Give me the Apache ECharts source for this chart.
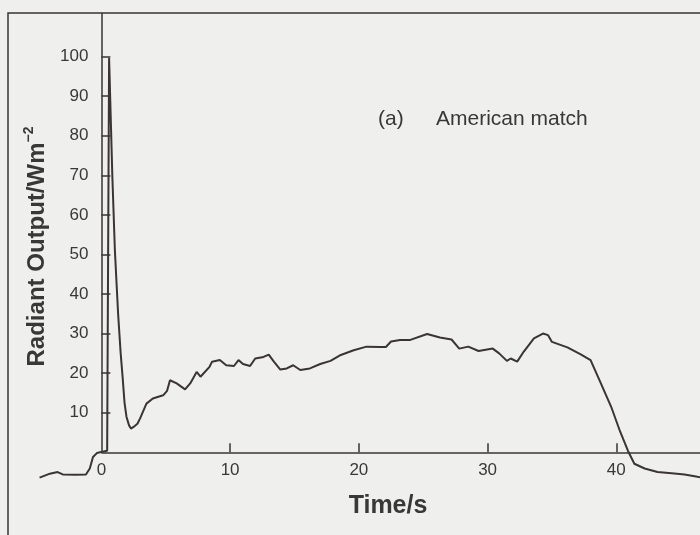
<!DOCTYPE html>
<html>
<head>
<meta charset="UTF-8">
<title>Radiant output - American match</title>
<script src="https://cdn.jsdelivr.net/npm/echarts@6/dist/echarts.min.js"></script>
<style>
	body{margin:0;background:#efefed;}
	#main{width:700px;height:535px;}
</style>
</head>
<body>
<div id="main"></div>
<script type="text/javascript">
	// values (time in s, output in W m-2)
	var time = [-4.8, -4.4, -4.0, -3.4, -3.0, -2.0, -1.2, -0.9, -0.65, -0.35, -0.1, 0.45, 0.6, 0.68, 0.85, 1.05, 1.3, 1.5, 1.65, 1.8,
		1.95, 2.15, 2.3, 2.5, 2.65, 2.8, 3.0, 3.5, 4.0, 4.8, 5.1, 5.33, 5.85, 6.5, 6.9, 7.4, 7.7, 8.4, 8.6, 9.2,
		9.7, 10.3, 10.65, 11.0, 11.55, 11.95, 12.6, 13.0, 13.4, 13.9, 14.4, 14.9, 15.45, 16.2, 17.0, 17.8, 18.6, 19.6, 20.6, 21.7,
		22.1, 22.5, 23.2, 24.0, 25.3, 26.3, 27.2, 27.8, 28.5, 29.3, 30.4, 30.9, 31.5, 31.8, 32.3, 32.8, 33.6, 34.3, 34.7, 35.0,
		36.2, 37.2, 38.0, 38.8, 39.6, 40.3, 40.9, 41.4, 42.2, 43.2, 44.3, 45.3, 46.3, 46.5];
	var output = [-6.4, -5.9, -5.4, -5.0, -5.6, -5.7, -5.6, -4.1, -1.2, -0.2, 0, 0.4, 99.6, 99.4, 70, 51, 35, 25, 19, 12.5,
		9, 6.8, 6.0, 6.4, 6.8, 7.2, 8.5, 12.3, 13.6, 14.4, 15.5, 18.2, 17.4, 15.9, 17.4, 20.3, 19.1, 21.6, 22.9, 23.3,
		22.0, 21.8, 23.3, 22.3, 21.8, 23.7, 24.1, 24.7, 22.9, 20.9, 21.2, 22.0, 20.8, 21.2, 22.3, 23.1, 24.6, 25.8, 26.7, 26.6,
		26.6, 28.0, 28.4, 28.4, 29.9, 29.0, 28.5, 26.2, 26.7, 25.6, 26.2, 25.0, 23.1, 23.7, 22.9, 25.4, 28.8, 30.0, 29.6, 27.9,
		26.5, 24.8, 23.3, 17.4, 11.5, 5.2, 0.4, -2.9, -4.1, -5.0, -5.3, -5.6, -6.2, -6.3];
	var xLabels = [0, 10, 20, 30, 40];
	var xTicks = [10, 20, 30, 40];
	var yTicks = [10, 20, 30, 40, 50, 60, 70, 80, 90, 100];

	var ink = '#3a3434';
	var font = "'Liberation Sans', Arial, Helvetica, sans-serif";

	var points = [];
	for (var i = 0; i < time.length; i++) {
		points.push([time[i], output[i]]);
	}

	var myChart = echarts.init(document.getElementById('main'));
	var option = {
		backgroundColor: '#efefed',
		animation: false,
		textStyle: {fontFamily: font, color: '#383838'},
		title: [
			{text: '(a)', left: 373, top: 104, textStyle: {fontFamily: font, fontSize: 21, fontWeight: 'normal', color: '#383838'}},
			{text: 'American match', left: 431, top: 104, textStyle: {fontFamily: font, fontSize: 21, fontWeight: 'normal', color: '#383838'}}
		],
		graphic: [{
			type: 'polyline',
			shape: {points: [[8, 535], [8, 13], [700, 13]]},
			style: {stroke: ink, lineWidth: 1.5, fill: null},
			silent: true
		}],
		grid: {left: 37, right: 0, top: 13, bottom: 55, containLabel: false, outerBoundsMode: 'none'},
		xAxis: {
			type: 'value',
			min: -5,
			max: 46.5,
			// shift the axis up to the zero line of y
			offset: -27.7,
			name: 'Time/s',
			nameLocation: 'middle',
			nameGap: 41,
			nameTextStyle: {fontFamily: font, fontSize: 25, fontWeight: 'bold', color: '#383838', padding: [0, 0, 0, 39]},
			axisLine: {show: false, onZero: false},
			axisTick: {show: true, inside: true, length: 9, customValues: xTicks, lineStyle: {color: ink, width: 1.5}},
			axisLabel: {customValues: xLabels, margin: 10, fontSize: 17, color: '#383838', fontFamily: font},
			splitLine: {show: false}
		},
		yAxis: {
			type: 'value',
			min: -7,
			max: 111,
			// shift the axis right to the zero line of x
			offset: -64.4,
			name: '{a|Radiant Output/Wm}{b|−2}',
			nameLocation: 'middle',
			nameRotate: 90,
			nameGap: 49,
			nameTextStyle: {
				rich: {
					a: {fontFamily: font, fontSize: 24, fontWeight: 'bold', color: '#383838', lineHeight: 30},
					b: {fontFamily: font, fontSize: 14, fontWeight: 'bold', color: '#383838', verticalAlign: 'top', lineHeight: 15}
				}
			},
			axisLine: {show: false, onZero: false},
			axisTick: {show: true, inside: true, length: 9, customValues: yTicks, lineStyle: {color: ink, width: 1.5}},
			axisLabel: {customValues: yTicks, margin: 13, fontSize: 17, color: '#383838', fontFamily: font},
			splitLine: {show: false}
		},
		series: [{
			type: 'line',
			data: points,
			showSymbol: false,
			symbol: 'none',
			lineStyle: {color: ink, width: 2},
			markLine: {
				silent: true,
				symbol: 'none',
				label: {show: false},
				lineStyle: {color: ink, width: 1.5, type: 'solid'},
				data: [
					[{coord: [0, 0]}, {coord: [46.5, 0]}],
					[{coord: [0, 0]}, {coord: [0, 111]}]
				]
			}
		}]
	};
	myChart.setOption(option);
</script>
</body>
</html>
